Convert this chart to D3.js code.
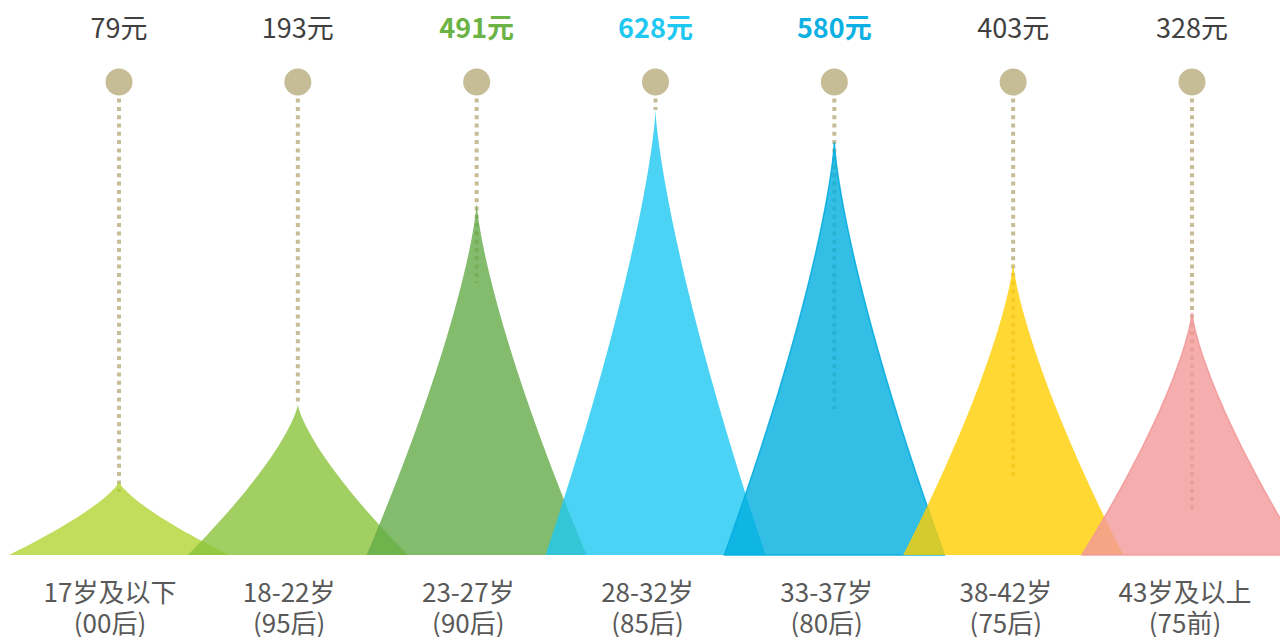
<!DOCTYPE html>
<html>
<head>
<meta charset="utf-8">
<script src="https://cdn.jsdelivr.net/npm/d3@7/dist/d3.min.js"></script>
<style>
  html, body { margin: 0; padding: 0; background: #ffffff; }
  svg { display: block; }
  text { font-family: "Noto Sans CJK SC", "Microsoft YaHei", sans-serif; }
</style>
</head>
<body>
<svg id="chart" width="1280" height="637"></svg>
<script>
// ---- data ----
const ageGroups = ["17岁及以下", "18-22岁", "23-27岁", "28-32岁", "33-37岁", "38-42岁", "43岁及以上"];
const generations = ["(00后)", "(95后)", "(90后)", "(85后)", "(80后)", "(75后)", "(75前)"];
const spending = [79, 193, 491, 628, 580, 403, 328];
const valueLabels = ["79元", "193元", "491元", "628元", "580元", "403元", "328元"];
// where each dotted guide line stops, in value units
const dashEnd = [63, 193, 372, 628, 186, 83, 37];
const highlighted = [false, false, true, true, true, false, false];

// ---- styles ----
const fills = ["#b3d333", "#8bc33b", "#63ab47", "#1ec8f3", "#00aedf", "#ffce00", "#f39898"];
const strokes = [null, null, null, null, "#06ade0", null, "#f29a9a"];
const labelColors = ["#404040", "#404040", "#6ab344", "#1ec8f0", "#0cb0e2", "#404040", "#404040"];

const svg = d3.select("#chart");
const baseY = 555;
const dotY = 82;

const xShape = d3.scalePoint().domain(ageGroups).range([119, 1192]);
const xAxis = d3.scalePoint().domain(ageGroups).range([110, 1185]);
const y = d3.scaleLinear().domain([-30, 650]).range([baseY, 95]);

const halfWidth = 110;
const power = 1.35;

function peakPath(cx, topY) {
  const n = 60;
  const pts = [];
  for (let i = 0; i <= n; i++) {
    const h = i / n;
    pts.push([cx - halfWidth * Math.pow(1 - h, power), baseY - h * (baseY - topY)]);
  }
  for (let i = n - 1; i >= 0; i--) {
    const h = i / n;
    pts.push([cx + halfWidth * Math.pow(1 - h, power), baseY - h * (baseY - topY)]);
  }
  return d3.line()(pts) + "Z";
}

const data = ageGroups.map((g, i) => ({
  g, gen: generations[i], v: spending[i], label: valueLabels[i], end: dashEnd[i], i
}));

// dotted guide lines (behind the peaks)
svg.append("g").selectAll("line").data(data).enter().append("line")
  .attr("x1", d => xShape(d.g)).attr("x2", d => xShape(d.g))
  .attr("y1", dotY).attr("y2", d => y(d.end))
  .attr("stroke", "#c6bd96").attr("stroke-width", 4)
  .attr("stroke-dasharray", "4 4.3");

// peaks
svg.append("g").selectAll("path").data(data).enter().append("path")
  .attr("d", d => peakPath(xShape(d.g), y(d.v)))
  .attr("fill", d => fills[d.i])
  .attr("fill-opacity", 0.8)
  .attr("stroke", d => strokes[d.i] || "none")
  .attr("stroke-width", 1.5)
  .attr("stroke-opacity", 0.9);

// circles
svg.append("g").selectAll("circle").data(data).enter().append("circle")
  .attr("cx", d => xShape(d.g)).attr("cy", dotY).attr("r", 13.5)
  .attr("fill", "#c6bd96");

// value labels
svg.append("g").selectAll("text").data(data).enter().append("text")
  .attr("x", d => xShape(d.g)).attr("y", 26)
  .attr("text-anchor", "middle").attr("dominant-baseline", "central")
  .attr("font-size", 27)
  .attr("font-weight", d => highlighted[d.i] ? 700 : 400)
  .attr("fill", d => labelColors[d.i])
  .text(d => d.label);

// category labels
const cat = svg.append("g").selectAll("text").data(data).enter().append("text")
  .attr("text-anchor", "middle")
  .attr("font-size", 26)
  .attr("fill", "#595959");
cat.append("tspan").attr("x", d => xAxis(d.g)).attr("y", 590)
  .attr("dominant-baseline", "central").text(d => d.g);
cat.append("tspan").attr("x", d => xAxis(d.g)).attr("y", 621)
  .attr("dominant-baseline", "central").text(d => d.gen);
</script>
</body>
</html>
